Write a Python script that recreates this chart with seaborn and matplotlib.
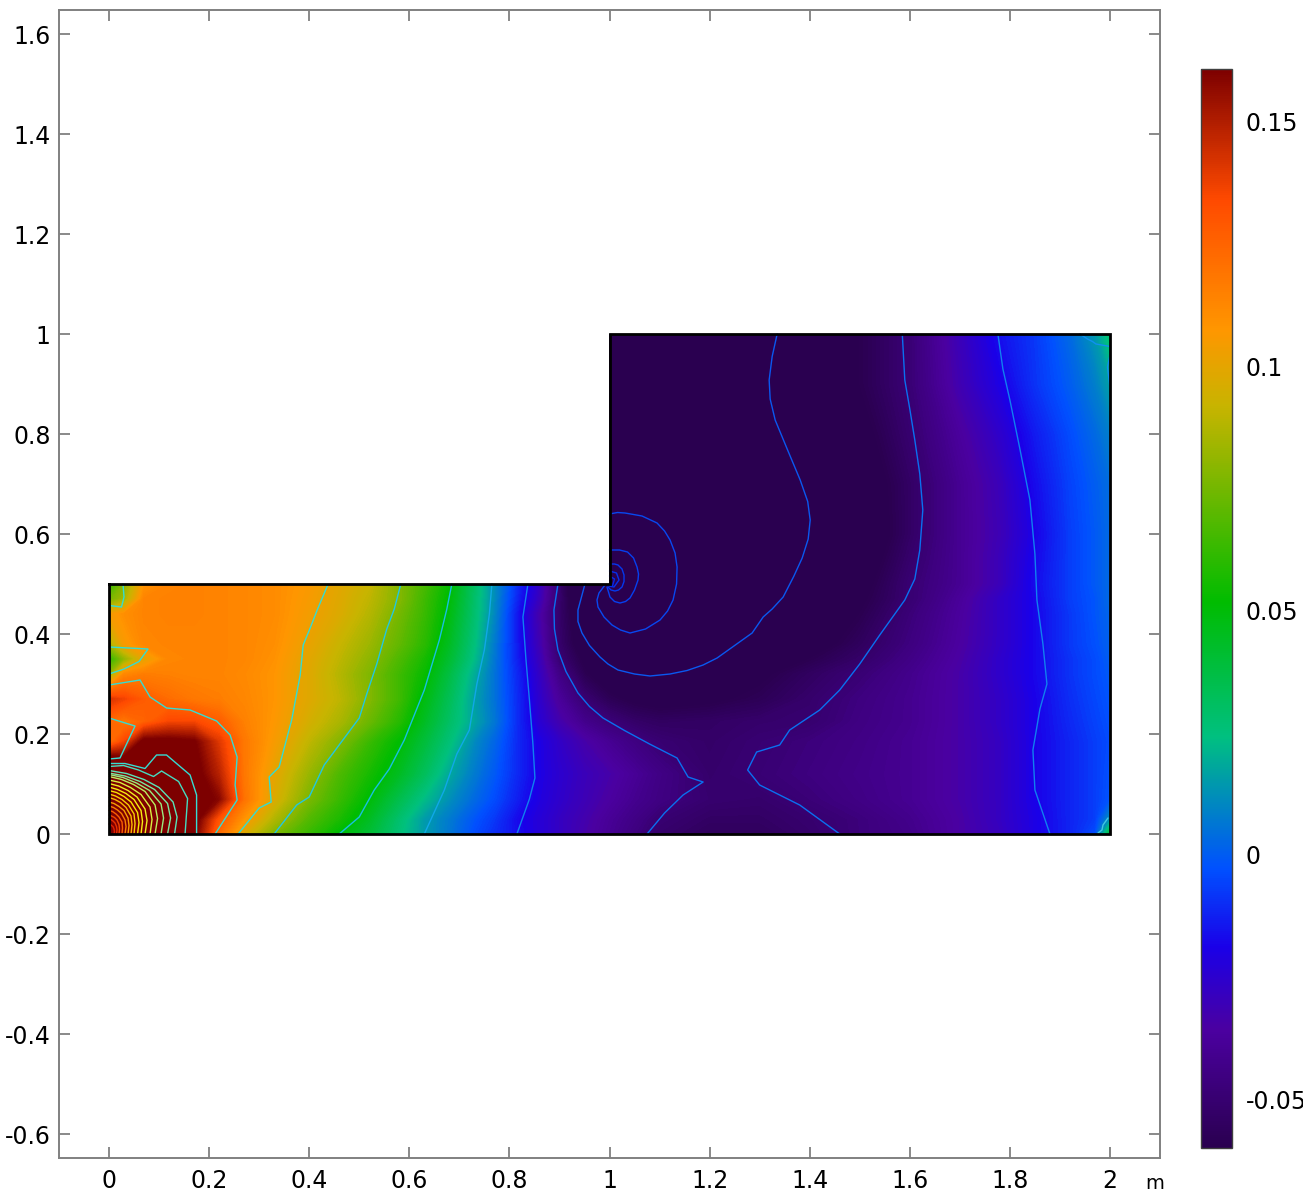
import numpy as np
import matplotlib
matplotlib.use("Agg")
import matplotlib.pyplot as plt
from matplotlib.colors import LinearSegmentedColormap, Normalize
from matplotlib.cm import ScalarMappable
import seaborn as sns

# ---------- field table, values ----------
X_NODES = [0, .03, .07, .12, .17, .22, .27, .33, .4, .46, .52, .58, .63, .68, .73, .77, .82, .86, .9, .95,
           1, 1.05, 1.1, 1.2, 1.3, 1.4, 1.5, 1.6, 1.7, 1.78, 1.85, 1.92, 1.97, 2]
Y_LOWER = [0, .03, .07, .12, .185, .225, .27, .32, .35, .38, .44, .47, .5]
FIELD_LOWER = [
 [.3,.26,.22,.19,.163,.122,.097,.077,.062,.05,.04,.026,.015,.006,-.004,-.01,-.017,-.023,-.028,-.034,-.04,-.046,-.052,-.056,-.056,-.052,-.047,-.043,-.035,-.029,-.02,-.012,-.004,.04],
 [.28,.24,.21,.185,.168,.13,.108,.087,.068,.057,.044,.028,.015,.007,-.002,-.008,-.018,-.023,-.028,-.033,-.039,-.044,-.05,-.054,-.054,-.051,-.047,-.042,-.035,-.028,-.02,-.012,-.007,.012],
 [.25,.22,.2,.18,.17,.158,.12,.097,.076,.063,.05,.035,.023,.012,.003,-.004,-.014,-.021,-.026,-.031,-.036,-.041,-.045,-.051,-.052,-.048,-.044,-.04,-.034,-.028,-.019,-.012,-.007,-.002],
 [.21,.19,.18,.17,.167,.148,.118,.1,.082,.067,.056,.044,.032,.018,.007,-.001,-.012,-.02,-.025,-.03,-.034,-.039,-.044,-.052,-.049,-.046,-.043,-.04,-.034,-.028,-.019,-.012,-.007,-.003],
 [.12,.135,.165,.165,.162,.14,.118,.105,.09,.078,.063,.051,.039,.026,.011,.002,-.012,-.02,-.027,-.034,-.04,-.045,-.05,-.053,-.05,-.047,-.044,-.04,-.034,-.028,-.019,-.012,-.007,-.004],
 [.123,.118,.125,.135,.135,.127,.115,.107,.095,.086,.073,.059,.044,.03,.017,.006,-.012,-.024,-.033,-.042,-.048,-.053,-.055,-.054,-.052,-.051,-.045,-.041,-.034,-.027,-.019,-.011,-.006,-.003],
 [.142,.136,.128,.122,.118,.116,.113,.108,.098,.09,.078,.064,.048,.033,.016,.005,-.012,-.026,-.038,-.05,-.058,-.062,-.064,-.062,-.058,-.052,-.046,-.041,-.034,-.027,-.019,-.01,-.005,-.002],
 [.08,.112,.116,.115,.114,.114,.112,.108,.098,.088,.077,.064,.053,.037,.019,.005,-.013,-.028,-.044,-.059,-.066,-.07,-.07,-.068,-.062,-.055,-.049,-.042,-.034,-.026,-.018,-.009,-.004,-.001],
 [.06,.08,.1,.113,.114,.114,.113,.109,.099,.09,.08,.067,.056,.041,.023,.006,-.015,-.03,-.05,-.062,-.07,-.075,-.075,-.072,-.066,-.06,-.053,-.044,-.035,-.026,-.018,-.009,-.004,0],
 [.085,.105,.113,.114,.114,.114,.113,.11,.101,.092,.083,.071,.06,.044,.025,.007,-.016,-.032,-.052,-.067,-.075,-.08,-.08,-.078,-.072,-.065,-.056,-.046,-.036,-.027,-.018,-.008,-.003,.001],
 [.104,.11,.114,.115,.115,.114,.113,.111,.104,.097,.088,.075,.063,.048,.028,.01,-.017,-.034,-.053,-.07,-.09,-.09,-.09,-.085,-.077,-.07,-.06,-.048,-.037,-.027,-.018,-.008,-.002,.002],
 [.075,.085,.114,.115,.115,.114,.113,.111,.105,.098,.09,.078,.064,.05,.029,.011,-.014,-.03,-.052,-.075,-.12,-.1,-.095,-.088,-.08,-.072,-.062,-.05,-.038,-.027,-.018,-.007,-.002,.003],
 [.06,.078,.108,.114,.115,.114,.113,.111,.106,.099,.092,.078,.066,.052,.03,.012,-.012,-.028,-.052,-.08,-.2,-.11,-.1,-.092,-.083,-.075,-.064,-.05,-.04,-.03,-.017,-.007,-.001,.003],
]
Y_UPPER = [.55, .6, .7, .8, .9, 1.0]
FIELD_UPPER = [  # columns x = 1 ... 2 only
 [-.15,-.11,-.1,-.095,-.09,-.08,-.067,-.052,-.04,-.03,-.018,-.007,-.001,.003],
 [-.13,-.11,-.1,-.095,-.09,-.08,-.07,-.054,-.04,-.031,-.019,-.007,-.001,.003],
 [-.12,-.11,-.1,-.095,-.09,-.08,-.068,-.054,-.04,-.03,-.017,-.006,0,.004],
 [-.12,-.11,-.1,-.095,-.088,-.076,-.064,-.051,-.037,-.026,-.014,-.004,.003,.008],
 [-.12,-.11,-.1,-.09,-.085,-.074,-.06,-.049,-.032,-.02,-.009,0,.008,.016],
 [-.12,-.11,-.1,-.09,-.082,-.072,-.06,-.049,-.03,-.016,-.008,.003,.014,.028],
]

# ---------- colour scale ----------
CBAR_MIN, CBAR_MAX = -0.06, 0.1608
CBAR_TICKS = [-0.05, 0, 0.05, 0.1, 0.15]
CBAR_LABELS = ["-0.05", "0", "0.05", "0.1", "0.15"]
CMAP_VALUES = [-.06, -.036, -.019, -.003, .024, .0517, .092, .1076, .134, .1608]
CMAP_COLORS = ["#2a0050", "#4b00a0", "#1a00e8", "#0050ff", "#00c080", "#00bc00", "#c8b400", "#ff9600", "#ff4a00", "#7d0000"]

# ---------- domain outline ----------
BOUNDARY_X = [0, 1, 1, 2, 2, 0, 0]
BOUNDARY_Y = [.5, .5, 1, 1, 0, 0, .5]

# ---------- contour lines: (x list, y list) ----------
L0 = ([0,.062,.082,.115,.162,.215,.242,.256,.252,.256,.212], [.298,.308,.274,.252,.248,.226,.198,.154,.098,.068,0])
L0B = ([0,.052,.022,0], [.232,.216,.152,.15])
L1 = ([.258,.30,.324,.32,.34,.365,.382,.388,.402,.416,.437], [0,.052,.064,.114,.134,.228,.318,.378,.412,.448,.498])
L2 = ([.33,.375,.40,.43,.50,.515,.535,.555,.57,.583], [0,.058,.074,.138,.232,.28,.34,.41,.45,.5])
L3 = ([.46,.50,.53,.56,.59,.63,.66,.675,.685], [0,.034,.088,.13,.188,.288,.388,.45,.5])
L4 = ([.63,.67,.695,.72,.735,.75,.76,.765], [0,.088,.16,.208,.3,.368,.44,.5])
L5 = ([.815,.84,.851,.847,.84,.833,.827,.837], [0,.07,.112,.18,.268,.35,.434,.5])
L6 = ([.897,.889,.89,.897,.913,.937,.96,.987,1.03,1.08,1.135,1.157,1.187,1.147,1.11,1.075],
      [.5,.448,.41,.368,.325,.282,.255,.232,.207,.18,.152,.114,.104,.078,.042,0])
R6 = ([1.46,1.38,1.3,1.276,1.294,1.34,1.36,1.42,1.46,1.50,1.54,1.59,1.61,1.62,1.626,1.62,1.61,1.60,1.59,1.585],
      [0,.058,.098,.128,.164,.178,.208,.248,.288,.34,.398,.468,.51,.568,.648,.72,.788,.85,.908,1])
R5 = ([1.776,1.786,1.80,1.82,1.84,1.85,1.854,1.866,1.874,1.86,1.846,1.85,1.88],
      [1,.93,.868,.77,.668,.56,.468,.38,.30,.25,.168,.088,0])
SPIRAL_C = ([1.335,1.325,1.319,1.321,1.331,1.355,1.381,1.396,1.401,1.397,1.385,1.368,1.347,1.325,1.307,1.285,1.25,1.215,1.187,1.155,1.121,1.081,1.05,1.017,.997,.981,.96,.945,.937,.937,.951],
            [1,.955,.908,.87,.828,.77,.708,.665,.628,.59,.552,.515,.474,.45,.434,.402,.377,.352,.338,.327,.32,.316,.32,.328,.34,.354,.377,.402,.425,.448,.5])
SPIRAL_D = ([1.0,1.016,1.031,1.065,1.095,1.11,1.121,1.131,1.135,1.134,1.127,1.116,1.101,1.072,1.041,1.022,1.005,.989,.977,.975,.979,.991],
            [.64,.643,.642,.636,.622,.606,.588,.562,.534,.5,.468,.446,.428,.41,.402,.408,.418,.434,.454,.468,.482,.498])
SPIRAL_E = ([1.0,1.02,1.036,1.048,1.055,1.058,1.057,1.05,1.041,1.032,1.021,1.01,1.001,.995],
            [.568,.568,.564,.552,.534,.52,.508,.488,.472,.465,.462,.465,.474,.494])
SPIRAL_F = ([1.0,1.01,1.017,1.025,1.029,1.029,1.025,1.018,1.011,1.003,.997],
            [.54,.54,.538,.53,.518,.505,.494,.488,.486,.488,.494])
SPIRAL_G = ([1.0,1.014,1.019,1.009,.999], [.526,.522,.508,.494,.496])
SPIRAL_H = ([1.0,1.01,1.006,.997], [.516,.51,.496,.498])
TOP_RIGHT_A = ([1.94,1.955,1.965,1.972,2.0], [1,.99,.985,.98,.975])
TOP_RIGHT_B = ([2.0,1.995,2.0], [.958,.934,.892])
BOTTOM_RIGHT = ([1.996,1.986,1.984,1.976], [.032,.018,.008,.002])
PATCH_MID = ([0,.078,.06,.03,0], [.374,.37,.345,.33,.32])
PATCH_TOP = ([0,.025,.03,.028], [.457,.454,.474,.5])
RING_C = ([.175,.175,.162,.115,.095,.072,.032,0], [0,.078,.118,.158,.158,.131,.141,.141])
RING_D = ([.152,.157,.139,.105,.089,.059,.029,0], [0,.071,.105,.126,.115,.128,.137,.135])

CYAN, CYAN2 = "#35dcd2", "#22c8e0"
LINES = [
    (L0, CYAN), (L0B, CYAN), (L1, CYAN), (L2, CYAN2), (L3, "#18c0e0"), (L4, "#10a8e8"),
    (L5, "#1080f0"), (L6, "#0a70f0"), (R6, "#0a70f0"), (R5, "#1080f0"),
    (SPIRAL_C, "#0a58f0"), (SPIRAL_D, "#0848f0"), (SPIRAL_E, "#0640f0"), (SPIRAL_F, "#0438ee"),
    (SPIRAL_G, "#0430ea"), (SPIRAL_H, "#0428e8"),
    (TOP_RIGHT_A, "#1090f0"), (TOP_RIGHT_B, "#1090f0"), (BOTTOM_RIGHT, "#40c8e0"),
    (PATCH_MID, CYAN), (PATCH_TOP, CYAN), (RING_C, CYAN), (RING_D, "#45dcc0"),
]

# concentric contours around the origin
CORNER_X = [
 [.131,.136,.128,.100,.070,.035,0],
 [.117,.123,.117,.091,.062,.032,0],
 [.104,.109,.104,.081,.055,.028,0],
 [.092,.097,.092,.072,.049,.025,0],
 [.082,.086,.082,.064,.043,.022,0],
 [.072,.076,.072,.056,.038,.019,0],
 [.064,.067,.064,.05,.034,.017,0],
 [.057,.06,.057,.044,.03,.015,0],
 [.05,.052,.05,.039,.026,.013,0],
 [.044,.046,.044,.034,.023,.012,0],
 [.038,.04,.038,.03,.02,.01,0],
 [.032,.034,.032,.025,.017,.009,0],
 [.026,.027,.026,.02,.014,.007,0],
 [.02,.021,.02,.016,.011,.005,0],
 [.015,.016,.015,.012,.008,.004,0],
 [.01,.011,.01,.008,.005,.003,0],
]
CORNER_Y = [
 [0,.034,.064,.093,.109,.121,.127],
 [0,.032,.061,.089,.105,.116,.122],
 [0,.032,.06,.087,.102,.113,.119],
 [0,.031,.058,.085,.099,.109,.115],
 [0,.029,.054,.079,.093,.103,.108],
 [0,.027,.05,.074,.087,.096,.101],
 [0,.025,.047,.069,.081,.089,.094],
 [0,.023,.043,.064,.075,.083,.087],
 [0,.021,.04,.058,.069,.076,.08],
 [0,.019,.036,.053,.063,.069,.073],
 [0,.017,.032,.047,.055,.061,.064],
 [0,.015,.028,.041,.048,.053,.056],
 [0,.012,.024,.034,.04,.045,.047],
 [0,.01,.019,.028,.033,.036,.038],
 [0,.008,.015,.022,.026,.029,.03],
 [0,.005,.01,.015,.017,.019,.02],
]
CORNER_COLORS = ["#58e4b8", "#78e8a0", "#98ec80", "#b8f060", "#d8f040", "#ecf020", "#f6f010", "#f8e800",
                 "#f8d000", "#f8b800", "#f8a000", "#f88000", "#f86000", "#f04800", "#e83000", "#e02000"]

# ---------- axis ticks ----------
X_TICKS = [0, .2, .4, .6, .8, 1, 1.2, 1.4, 1.6, 1.8, 2]
X_LABELS = ["0", "0.2", "0.4", "0.6", "0.8", "1", "1.2", "1.4", "1.6", "1.8", "2"]
Y_TICKS = [-.6, -.4, -.2, 0, .2, .4, .6, .8, 1, 1.2, 1.4, 1.6]
Y_LABELS = ["-0.6", "-0.4", "-0.2", "0", "0.2", "0.4", "0.6", "0.8", "1", "1.2", "1.4", "1.6"]
X_UNIT = "m"

sns.set_theme(style="white", rc={"font.family": "DejaVu Sans", "axes.unicode_minus": False,
                                 "text.color": "black", "xtick.color": "black", "ytick.color": "black"})

W, H = 1303, 1196
fig = plt.figure(figsize=(W / 100, H / 100), dpi=100, facecolor="white")
ax = fig.add_axes([59 / W, (H - 1158) / H, 1101 / W, 1148 / H])
cax = fig.add_axes([1201 / W, (H - 1148) / H, 31 / W, 1079 / H])

# colormap
span = CBAR_MAX - CBAR_MIN
cmap = LinearSegmentedColormap.from_list("rainbow_dark",
        [((v - CBAR_MIN) / span, c) for v, c in zip(CMAP_VALUES, CMAP_COLORS)], N=512)
norm = Normalize(CBAR_MIN, CBAR_MAX)

# field
x_nodes = np.array(X_NODES)
n_left = int(np.sum(x_nodes < 1))
upper = np.array([[np.nan] * n_left + row for row in FIELD_UPPER])
z = np.vstack([np.array(FIELD_LOWER), upper])
y_nodes = np.array(Y_LOWER + Y_UPPER)
levels = np.linspace(CBAR_MIN, CBAR_MAX, 240)
cs = ax.contourf(x_nodes, y_nodes, np.ma.masked_invalid(z), levels=levels, cmap=cmap, norm=norm,
                 extend="both", corner_mask=False, antialiased=False)

# contour lines
LW = 1.0
for (lx, ly), col in LINES:
    sns.lineplot(x=lx, y=ly, ax=ax, sort=False, estimator=None, errorbar=None, color=col, linewidth=LW, legend=False)
for lx, ly, col in zip(CORNER_X, CORNER_Y, CORNER_COLORS):
    sns.lineplot(x=lx, y=ly, ax=ax, sort=False, estimator=None, errorbar=None, color=col, linewidth=LW, legend=False)

# outline
sns.lineplot(x=BOUNDARY_X, y=BOUNDARY_Y, ax=ax, sort=False, estimator=None, errorbar=None,
             color="black", linewidth=2.0, legend=False, solid_joinstyle="miter", solid_capstyle="projecting")

# axes styling
GREY = "#808080"
ax.set_xlim(-50 / 500.5, 1051 / 500.5)
ax.set_ylim(-324 / 500, 824 / 500)
ax.set_xticks(X_TICKS, X_LABELS)
ax.set_yticks(Y_TICKS, Y_LABELS)
ax.tick_params(axis="both", which="major", direction="in", length=8, width=1.3, color=GREY,
               top=True, right=True, bottom=True, left=True, labelsize=17)
ax.tick_params(axis="x", pad=8)
ax.tick_params(axis="y", pad=6)
for s in ax.spines.values():
    s.set_visible(True)
    s.set_color(GREY)
    s.set_linewidth(1.4)
ax.grid(False)
ax.set_xlabel("")
ax.set_ylabel("")
ax.annotate(X_UNIT, xy=(2.0884, 0), xycoords=("data", "axes fraction"), xytext=(0, -18.5),
            textcoords="offset points", ha="center", va="center", fontsize=14, color="black")

# colour bar
cb = fig.colorbar(ScalarMappable(norm=norm, cmap=cmap), cax=cax, ticks=CBAR_TICKS)
cb.ax.set_yticklabels(CBAR_LABELS)
cax.tick_params(axis="y", direction="in", length=4.5, width=1.2, color=(0, 0, 0, .6),
                left=True, right=True, labelright=True, labelleft=False, labelsize=17, pad=10)
cb.outline.set_edgecolor("#404040")
cb.outline.set_linewidth(1.0)

fig.savefig("out.png", dpi=100, facecolor="white")
